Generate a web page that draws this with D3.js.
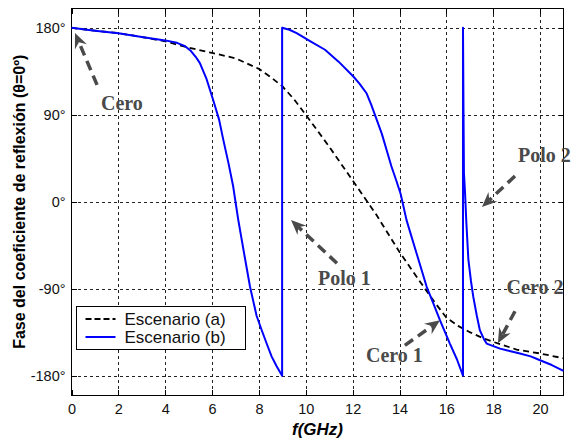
<!DOCTYPE html>
<html>
<head>
<meta charset="utf-8">
<script src="https://cdn.jsdelivr.net/npm/d3@7"></script>
<style>
  body { margin: 0; background: #fff; }
  svg { display: block; font-family: "Liberation Sans", Arial, sans-serif; }
</style>
</head>
<body>
<script>
// Escenario (a) - dashed black
const freqA = [0, 1, 2, 3, 4, 5, 6, 7, 8, 8.5, 9, 9.5, 10, 11, 12, 13, 14, 15, 15.5, 16, 16.5, 17, 17.5, 18, 19, 20, 21];
const phaseA = [180, 177, 174.5, 170.5, 166, 159.5, 154, 148.5, 137.5, 129, 119.5, 106, 90, 57, 22, -13, -52, -87, -104, -120, -128.5, -135, -140.5, -145, -153, -157, -162];

// Escenario (b) - solid blue (two phase wraps at ~9 GHz and ~16.7 GHz)
const freqB = [0, 1, 2, 3, 4, 4.5, 4.85, 5.1, 5.3, 5.48, 5.75, 6.05, 6.3, 6.48, 6.7, 6.9, 7.12, 7.4, 7.62, 7.9, 8.12, 8.35, 8.54, 8.75, 8.99,
  8.99, 9.3, 9.61, 10.2, 10.82, 11.4, 12.03, 12.3, 12.6, 12.8, 13.03, 13.25, 13.45, 13.65, 13.88, 14.05, 14.3, 14.73, 15.16, 15.44, 15.73, 16.15, 16.45, 16.71,
  16.71, 16.73, 16.75, 16.8, 16.85, 16.94, 17.05, 17.15, 17.3, 17.43, 17.6, 17.72, 18.29, 18.7, 19.14, 19.6, 20, 20.5, 21];
const phaseB = [180, 177, 174.5, 170.5, 167, 164.5, 161, 156, 150, 143.5, 128, 105, 85, 64, 40, 16, -19, -58, -88, -118, -133, -148, -160, -170, -180,
  180, 178, 174.5, 166, 157.3, 145, 129.6, 122, 112, 100, 84.7, 70, 53.6, 37, 20.7, 8, -19, -53.5, -88, -105, -122.7, -146.8, -163, -180,
  180, 100, 30, 8, -20, -60, -82, -98.5, -118, -133, -142, -146.8, -152, -154.5, -157, -160, -164, -169, -175];

const xTicks = [0, 2, 4, 6, 8, 10, 12, 14, 16, 18, 20];
const yTicks = [180, 90, 0, -90, -180];
const yTickLabels = ['180°', '90°', '0°', '-90°', '-180°'];
const seriesNames = ['Escenario (a)', 'Escenario (b)'];

// annotations (data coordinates)
const noteLabels = ['Cero', 'Polo 1', 'Cero 1', 'Cero 2', 'Polo 2'];
const noteTextF = [1.26, 10.52, 12.57, 18.57, 19.06];
const noteTextPhase = [95, -86.4, -165.9, -95, 41.5];
const arrowTailF = [1.09, 11.33, 14.23, 18.93, 18.93];
const arrowTailPhase = [121, -63.6, -148.6, -113.3, 26.6];
const arrowTipF = [0.15, 9.37, 15.73, 18.2, 17.52];
const arrowTipPhase = [174.6, -19, -122.7, -146.5, -5.5];

const width = 574, height = 439;
const margin = { top: 8.5, right: 10.5, bottom: 44, left: 71.5 };
const plotW = width - margin.left - margin.right;
const plotH = height - margin.top - margin.bottom;

const x = d3.scaleLinear().domain([0, 21]).range([0, plotW]);
const y = d3.scaleLinear().domain([-200, 200]).range([plotH, 0]);

const svg = d3.select('body').append('svg')
    .attr('width', width)
    .attr('height', height);

svg.append('rect').attr('width', width).attr('height', height).attr('fill', '#fff');

const g = svg.append('g').attr('transform', `translate(${margin.left},${margin.top})`);

// grid
const gridX = g.append('g')
    .attr('transform', `translate(0,${plotH})`)
    .call(d3.axisBottom(x).tickValues(xTicks.filter(d => d > 0)).tickSize(-plotH).tickFormat(''));
const gridY = g.append('g')
    .call(d3.axisLeft(y).tickValues(yTicks).tickSize(-plotW).tickFormat(''));
[gridX, gridY].forEach(sel => {
    sel.select('.domain').remove();
    sel.selectAll('line')
        .attr('stroke', '#222')
        .attr('stroke-dasharray', '3,3')
        .attr('shape-rendering', 'crispEdges');
});

// axes with inward ticks
const xAxis = g.append('g')
    .attr('transform', `translate(0,${plotH})`)
    .call(d3.axisBottom(x).tickValues(xTicks).tickSize(-5).tickPadding(9).tickFormat(d3.format('d')));
const yAxis = g.append('g')
    .call(d3.axisLeft(y).tickValues(yTicks).tickSize(-5).tickPadding(6).tickFormat((d, i) => yTickLabels[i]));
const xAxisTop = g.append('g')
    .call(d3.axisTop(x).tickValues(xTicks).tickSize(-5).tickFormat(''));
const yAxisRight = g.append('g')
    .attr('transform', `translate(${plotW},0)`)
    .call(d3.axisRight(y).tickValues(yTicks).tickSize(-5).tickFormat(''));
[xAxis, yAxis, xAxisTop, yAxisRight].forEach(sel => {
    sel.select('.domain').remove();
    sel.selectAll('line').attr('stroke', '#000').attr('shape-rendering', 'crispEdges');
    sel.selectAll('text')
        .attr('fill', '#111')
        .style('font-size', '14.5px')
        .style('font-family', '"Liberation Sans", Arial, sans-serif');
});

g.append('rect')
    .attr('width', plotW)
    .attr('height', plotH)
    .attr('fill', 'none')
    .attr('stroke', '#000')
    .attr('shape-rendering', 'crispEdges');

// curves
const lineA = d3.line().x((d, i) => x(freqA[i])).y(d => y(d));
const lineB = d3.line().x((d, i) => x(freqB[i])).y(d => y(d));

const curves = g.append('g');
curves.append('path')
    .attr('d', lineA(phaseA))
    .attr('fill', 'none')
    .attr('stroke', '#000')
    .attr('stroke-width', 1.8)
    .attr('stroke-dasharray', '6,4');
curves.append('path')
    .attr('d', lineB(phaseB))
    .attr('fill', 'none')
    .attr('stroke', '#0000ff')
    .attr('stroke-width', 2)
    .attr('stroke-linejoin', 'round');

// annotations
const noteColor = '#4a4a4a';
const notes = g.append('g');
noteLabels.forEach((label, i) => {
    const x0 = x(arrowTailF[i]), y0 = y(arrowTailPhase[i]);
    const x1 = x(arrowTipF[i]), y1 = y(arrowTipPhase[i]);
    const ang = Math.atan2(y1 - y0, x1 - x0);
    const len = 15, half = 6.5, notch = 10;
    const ux = Math.cos(ang), uy = Math.sin(ang);
    const bx = x1 - ux * len, by = y1 - uy * len;
    const nx = x1 - ux * notch, ny = y1 - uy * notch;
    notes.append('line')
        .attr('x1', x0).attr('y1', y0)
        .attr('x2', nx).attr('y2', ny)
        .attr('stroke', noteColor)
        .attr('stroke-width', 3.5)
        .attr('stroke-dasharray', '10,6');
    const head = [
        [x1, y1],
        [bx - uy * half, by + ux * half],
        [nx, ny],
        [bx + uy * half, by - ux * half]
    ];
    notes.append('polygon')
        .attr('points', head.map(p => p.join(',')).join(' '))
        .attr('fill', noteColor);
    notes.append('text')
        .attr('x', x(noteTextF[i]))
        .attr('y', y(noteTextPhase[i]))
        .attr('fill', noteColor)
        .style('font-family', '"Liberation Serif", "Times New Roman", serif')
        .style('font-weight', 'bold')
        .style('font-size', '20px')
        .text(label);
});

// legend
const legend = g.append('g').attr('transform', `translate(${76.5 - margin.left},${306.5 - margin.top})`);
legend.append('rect')
    .attr('width', 169)
    .attr('height', 43)
    .attr('fill', '#fff')
    .attr('stroke', '#000')
    .attr('shape-rendering', 'crispEdges');
seriesNames.forEach((name, i) => {
    const ly = 12.5 + i * 18;
    legend.append('line')
        .attr('x1', 9).attr('x2', 39)
        .attr('y1', ly).attr('y2', ly)
        .attr('stroke', i === 0 ? '#000' : '#0000ff')
        .attr('stroke-width', i === 0 ? 1.8 : 2)
        .attr('stroke-dasharray', i === 0 ? '6,3' : null);
    legend.append('text')
        .attr('x', 48)
        .attr('y', ly + 6)
        .attr('fill', '#111')
        .style('font-size', '17px')
        .text(name);
});

// axis titles
svg.append('text')
    .attr('x', margin.left + plotW / 2)
    .attr('y', 435)
    .attr('text-anchor', 'middle')
    .style('font-size', '17px')
    .style('font-weight', 'bold')
    .style('font-style', 'italic')
    .text('f(GHz)');

svg.append('text')
    .attr('transform', `translate(25,${margin.top + plotH / 2}) rotate(-90)`)
    .attr('text-anchor', 'middle')
    .style('font-size', '16px')
    .style('font-weight', 'bold')
    .text('Fase del coeficiente de reflexión (θ=0º)');
</script>
</body>
</html>
